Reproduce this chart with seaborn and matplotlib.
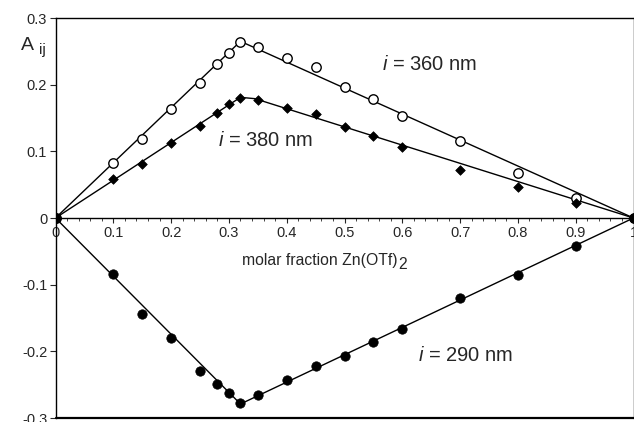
import matplotlib
matplotlib.use("Agg")
import matplotlib.pyplot as plt
import seaborn as sns
import pandas as pd
import numpy as np

# ---- data ----
x_pts = [0.0, 0.1, 0.15, 0.2, 0.25, 0.28, 0.3, 0.32, 0.35, 0.4, 0.45, 0.5, 0.55, 0.6, 0.7, 0.8, 0.9, 1.0]
y_360 = [0.0, 0.082, 0.118, 0.163, 0.202, 0.231, 0.248, 0.264, 0.256, 0.240, 0.226, 0.196, 0.1785, 0.153, 0.1155, 0.0675, 0.030, 0.0]
y_380 = [0.0, 0.058, 0.081, 0.112, 0.138, 0.158, 0.1705, 0.180, 0.177, 0.1645, 0.1555, 0.136, 0.123, 0.107, 0.0715, 0.046, 0.022, 0.0]
y_290 = [0.0, -0.084, -0.144, -0.1805, -0.229, -0.2495, -0.262, -0.277, -0.266, -0.2435, -0.222, -0.2065, -0.1855, -0.167, -0.1195, -0.086, -0.042, 0.0]

fit_360_x = [0.0, 0.32, 1.0]
fit_360_y = [0.0, 0.265, 0.0]
fit_380_x = [0.0, 0.32, 0.345, 1.0]
fit_380_y = [0.0, 0.181, 0.179, 0.0]
fit_290_x = [0.0, 0.32, 1.0]
fit_290_y = [0.0, -0.279, 0.0]

x_ticks = [0, 0.1, 0.2, 0.3, 0.4, 0.5, 0.6, 0.7, 0.8, 0.9, 1]
x_tick_labels = ["0", "0.1", "0.2", "0.3", "0.4", "0.5", "0.6", "0.7", "0.8", "0.9", "1"]
y_ticks = [-0.3, -0.2, -0.1, 0, 0.1, 0.2, 0.3]
y_tick_labels = ["-0.3", "-0.2", "-0.1", "0", "0.1", "0.2", "0.3"]

# ---- style ----
sns.set_style("white")
plt.rcParams["font.family"] = ["Liberation Sans", "DejaVu Sans"]
plt.rcParams["mathtext.fontset"] = "custom"
plt.rcParams["mathtext.it"] = "Liberation Sans:italic"
plt.rcParams["mathtext.rm"] = "Liberation Sans"

W, H = 634, 422
fig = plt.figure(figsize=(W / 100, H / 100), dpi=100)
ax = fig.add_axes([55.5 / W, 4 / H, 578 / W, 400 / H])

lw = 1.0
# fit lines
for fx, fy in [(fit_360_x, fit_360_y), (fit_380_x, fit_380_y), (fit_290_x, fit_290_y)]:
    sns.lineplot(x=fx, y=fy, ax=ax, color="black", linewidth=lw, sort=False, zorder=2)

# points
sns.scatterplot(x=x_pts, y=y_360, ax=ax, marker="o", s=46, facecolor="white",
                edgecolor="black", linewidth=1.0, zorder=3)
sns.scatterplot(x=x_pts, y=y_380, ax=ax, marker="D", s=24, color="black",
                edgecolor="black", linewidth=0.5, zorder=4)
sns.scatterplot(x=x_pts, y=y_290, ax=ax, marker="o", s=46, color="black",
                edgecolor="black", linewidth=0.5, zorder=4)

ax.set_xlim(0, 1)
ax.set_ylim(-0.3, 0.3)

# spines: bottom spine becomes the zero axis; frame bottom drawn separately
for s in ["top", "left", "right"]:
    ax.spines[s].set_color("black")
    ax.spines[s].set_linewidth(1.0)
ax.spines["bottom"].set_position(("data", 0))
ax.spines["bottom"].set_color("black")
ax.spines["bottom"].set_linewidth(1.0)
ax.axhline(-0.3, color="black", linewidth=1.6, clip_on=False, zorder=5)

ax.set_xticks(x_ticks)
ax.set_xticklabels(x_tick_labels)
ax.set_xticks(np.round(np.arange(0, 1.0001, 0.02), 2), minor=True)
ax.set_yticks(y_ticks)
ax.set_yticklabels(y_tick_labels)
ax.tick_params(axis="x", which="major", direction="out", length=3.5, width=0.8,
               labelsize=10.5, pad=2, bottom=True)
ax.tick_params(axis="x", which="minor", direction="out", length=2.5, width=0.6, bottom=True)
ax.tick_params(axis="y", which="major", direction="out", length=4, width=0.8,
               labelsize=10.5, pad=2, left=True)
ax.set_xlabel("")
ax.set_ylabel("")

# texts
t = ax.text(0.3227, -0.063, "molar fraction Zn(OTf)", ha="left", va="center", fontsize=11.3)
ax.annotate("2", xy=(1, 0.5), xycoords=t, xytext=(0.8, -3.5), textcoords="offset points",
            ha="left", va="center", fontsize=11.3)
ta = fig.text(21 / W, 1 - 45 / H, "A", ha="left", va="center", fontsize=14)
fig.text(39 / W, 1 - 50 / H, "ij", ha="left", va="center", fontsize=11)

def label(x, y, nm):
    ax.text(x, y, "$i$ = " + nm + " nm", ha="left", va="center", fontsize=14.5)

label(0.565, 0.2295, "360")
label(0.282, 0.117, "380")
label(0.627, -0.2065, "290")

fig.savefig("out.png", dpi=100)
